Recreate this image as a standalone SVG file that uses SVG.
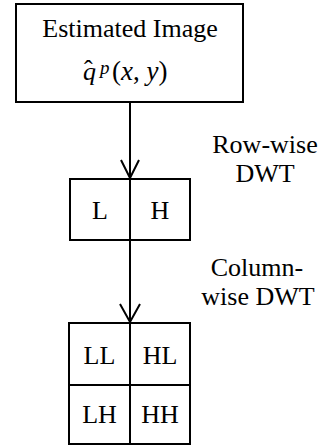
<svg xmlns="http://www.w3.org/2000/svg" width="323" height="445" viewBox="0 0 323 445">
<style>
.b{fill:#fff;stroke:#000;stroke-width:2}
.l{fill:none;stroke:#000;stroke-width:2}
text{font-family:"Liberation Serif","Times New Roman",serif;fill:#000}
.t{font-size:26px}
.c{text-anchor:middle}
.i{font-style:italic}
</style>
<g id="node-estimated">
<rect class="b" x="16" y="4" width="227" height="98"/>
<text class="t c" x="130" y="37">Estimated Image</text>
<text class="t" x="83" y="80"><tspan class="i">q</tspan><tspan dx="-12" dy="-2">ˆ</tspan></text>
<text class="i" x="100" y="74" font-size="19">p</text>
<text x="112" y="80" font-size="27">(<tspan class="i">x</tspan>, <tspan class="i">y</tspan>)</text>
</g>
<g id="node-lh">
<rect class="b" x="70" y="179" width="120" height="61"/>
<line class="l" x1="130" y1="179" x2="130" y2="240"/>
<text class="t c" x="100" y="219">L</text>
<text class="t c" x="160" y="219">H</text>
</g>
<g id="node-sub">
<rect class="b" x="69" y="323" width="121" height="121"/>
<line class="l" x1="130" y1="323" x2="130" y2="444"/>
<line class="l" x1="69" y1="385" x2="190" y2="385"/>
<text class="t c" x="99.5" y="364">LL</text>
<text class="t c" x="160" y="364">HL</text>
<text class="t c" x="99.5" y="423">LH</text>
<text class="t c" x="160" y="423">HH</text>
</g>
<g id="labels">
<text class="t c" x="265" y="153">Row-wise</text>
<text class="t c" x="265" y="182">DWT</text>
<text class="t c" x="257" y="276">Column-</text>
<text class="t c" x="258" y="305">wise DWT</text>
</g>
<g id="connectors">
<line class="l" x1="130" y1="102" x2="130" y2="178"/>
<path class="l" d="M121,160 L130,178 L139,160"/>
<line class="l" x1="130" y1="240" x2="130" y2="322"/>
<path class="l" d="M120,304 L130,322 L140,304"/>
</g>
</svg>
